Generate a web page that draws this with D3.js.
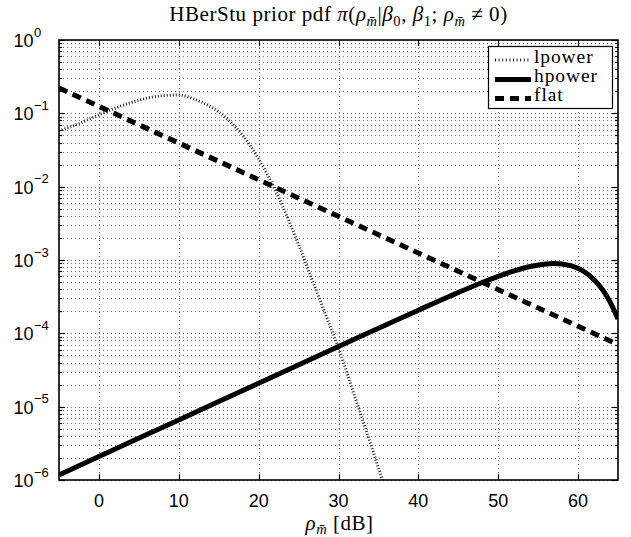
<!DOCTYPE html>
<html>
<head>
<meta charset="utf-8">
<script src="https://cdn.jsdelivr.net/npm/d3@7"></script>
<style>
  html, body { margin: 0; padding: 0; background: #fff; }
  svg { display: block; }
</style>
</head>
<body>
<svg id="chart" width="631" height="537"></svg>
<script>
// ---- data ---------------------------------------------------------------
// x: rho in dB, y: prior pdf value
const lpowerDb  = [-5, -2.5, 0, 2.5, 5, 7.5, 10, 12, 14, 16, 18, 20, 22, 24, 26, 28, 30, 32, 34, 35.5];
const lpowerPdf = [0.0575, 0.0724, 0.0955, 0.123, 0.151, 0.172, 0.178, 0.155, 0.123, 0.0851,
                   0.0501, 0.0240, 0.00933, 0.00302, 8.5e-4, 2.29e-4, 6.3e-5, 1.41e-5, 3.16e-6, 1.0e-6];

const hpowerDb  = [-5, 0, 10, 20, 30, 40, 44, 48, 50, 52, 54, 56, 57, 58, 60, 61, 62, 63, 64, 65];
const hpowerPdf = [1.17e-6, 2.09e-6, 6.6e-6, 2.09e-5, 6.6e-5, 2.07e-4, 3.23e-4, 4.93e-4, 5.98e-4,
                   7.10e-4, 8.15e-4, 8.85e-4, 8.97e-4, 8.83e-4, 7.69e-4, 6.65e-4, 5.39e-4, 4.02e-4,
                   2.69e-4, 1.57e-4];

const flatDb  = [-5, 65];
const flatPdf = [0.221, 7.03e-5];

const seriesNames = ["lpower", "hpower", "flat"];

const xTickValues = [0, 10, 20, 30, 40, 50, 60];
const xTickLabels = ["0", "10", "20", "30", "40", "50", "60"];
const yDecadeExps = [0, -1, -2, -3, -4, -5, -6];

// ---- layout -------------------------------------------------------------
const svg = d3.select("#chart");
const L = 59, R = 618, T = 40, B = 480;

const x = d3.scaleLinear().domain([-5, 65]).range([L, R]);
const y = d3.scaleLog().domain([1e-6, 1]).range([B, T]);

const sans = "'Liberation Sans', Arial, Helvetica, sans-serif";
const serif = "'Liberation Serif', 'Times New Roman', serif";

// ---- grid ---------------------------------------------------------------
const yMajor = yDecadeExps.map(e => Math.pow(10, e));
const yMinor = [];
for (let e = -6; e < 0; e++) for (let k = 2; k <= 9; k++) yMinor.push(k * Math.pow(10, e));

const grid = svg.append("g")
  .attr("stroke", "#333").attr("stroke-width", 0.7)
  .attr("stroke-dasharray", "1,3").attr("fill", "none");

grid.selectAll("line.h").data(yMajor.concat(yMinor)).join("line")
  .attr("x1", L).attr("x2", R)
  .attr("y1", d => Math.round(y(d)) + 0.5).attr("y2", d => Math.round(y(d)) + 0.5);

grid.selectAll("line.v").data(xTickValues).join("line")
  .attr("y1", T).attr("y2", B)
  .attr("x1", d => Math.round(x(d)) + 0.5).attr("x2", d => Math.round(x(d)) + 0.5);

// ---- curves -------------------------------------------------------------
svg.append("clipPath").attr("id", "plotClip")
  .append("rect").attr("x", L).attr("y", T).attr("width", R - L).attr("height", B - T);

const plot = svg.append("g").attr("clip-path", "url(#plotClip)");

const line = d3.line()
  .x(d => x(d[0])).y(d => y(d[1]))
  .curve(d3.curveMonotoneX);

const styles = {
  lpower: { stroke: "#222", width: 3, dash: "1,2" },
  hpower: { stroke: "#000", width: 5, dash: null },
  flat:   { stroke: "#000", width: 5, dash: "9,6" }
};

const series = [
  { name: "lpower", pts: d3.zip(lpowerDb, lpowerPdf) },
  { name: "hpower", pts: d3.zip(hpowerDb, hpowerPdf) },
  { name: "flat",   pts: d3.zip(flatDb, flatPdf) }
];

series.forEach(s => {
  const st = styles[s.name];
  plot.append("path")
    .attr("d", line(s.pts))
    .attr("fill", "none")
    .attr("stroke", st.stroke)
    .attr("stroke-width", st.width)
    .attr("stroke-dasharray", st.dash);
});

// ---- axes box and ticks -------------------------------------------------
const axes = svg.append("g").attr("stroke", "#000").attr("stroke-width", 1.2);

axes.append("rect")
  .attr("x", L).attr("y", T).attr("width", R - L).attr("height", B - T)
  .attr("fill", "none").attr("stroke-width", 1.6);

// x ticks, bottom and top, pointing inward
xTickValues.forEach(v => {
  const px = Math.round(x(v)) + 0.5;
  axes.append("line").attr("x1", px).attr("x2", px).attr("y1", B).attr("y2", B - 6);
  axes.append("line").attr("x1", px).attr("x2", px).attr("y1", T).attr("y2", T + 6);
});

// y ticks, left and right
yMajor.forEach(v => {
  const py = Math.round(y(v)) + 0.5;
  axes.append("line").attr("x1", L).attr("x2", L + 6).attr("y1", py).attr("y2", py);
  axes.append("line").attr("x1", R).attr("x2", R - 6).attr("y1", py).attr("y2", py);
});
yMinor.forEach(v => {
  const py = Math.round(y(v)) + 0.5;
  axes.append("line").attr("x1", L).attr("x2", L + 3).attr("y1", py).attr("y2", py);
  axes.append("line").attr("x1", R).attr("x2", R - 3).attr("y1", py).attr("y2", py);
});

// ---- tick labels --------------------------------------------------------
svg.append("g").selectAll("text").data(xTickValues).join("text")
  .attr("x", d => x(d)).attr("y", 507)
  .attr("text-anchor", "middle")
  .attr("font-family", sans).attr("font-size", 18)
  .text((d, i) => xTickLabels[i]);

const yl = svg.append("g").attr("font-family", sans).attr("fill", "#000");
yDecadeExps.forEach(e => {
  const py = y(Math.pow(10, e));
  yl.append("text").attr("x", 33.5).attr("y", py + 7)
    .attr("text-anchor", "end").attr("font-size", 18).text("10");
  yl.append("text").attr("x", 34).attr("y", py - 3.5)
    .attr("text-anchor", "start").attr("font-size", 13)
    .text(e === 0 ? "0" : "\u2212" + Math.abs(e));
});

// ---- title --------------------------------------------------------------
const title = svg.append("text")
  .attr("x", (L + R) / 2).attr("y", 21)
  .attr("text-anchor", "middle")
  .attr("font-family", serif).attr("font-size", 21)
  .attr("letter-spacing", 0.55);
const sub = 14.5, drop = 4.5;
title.append("tspan").text("HBerStu prior pdf ");
title.append("tspan").attr("font-style", "italic").text("\u03c0");
title.append("tspan").text("(");
title.append("tspan").attr("font-style", "italic").text("\u03c1");
title.append("tspan").attr("font-style", "italic").attr("font-size", sub).attr("dy", drop).text("m\u0304");
title.append("tspan").attr("dy", -drop).text("|");
title.append("tspan").attr("font-style", "italic").text("\u03b2");
title.append("tspan").attr("font-size", sub).attr("dy", drop).text("0");
title.append("tspan").attr("dy", -drop).text(", ");
title.append("tspan").attr("font-style", "italic").text("\u03b2");
title.append("tspan").attr("font-size", sub).attr("dy", drop).text("1");
title.append("tspan").attr("dy", -drop).text("; ");
title.append("tspan").attr("font-style", "italic").text("\u03c1");
title.append("tspan").attr("font-style", "italic").attr("font-size", sub).attr("dy", drop).text("m\u0304");
title.append("tspan").attr("dy", -drop).text(" \u2260 0)");

// ---- x axis label -------------------------------------------------------
const xl = svg.append("text")
  .attr("x", (L + R) / 2 + 1).attr("y", 530)
  .attr("text-anchor", "middle")
  .attr("font-family", serif).attr("font-size", 21)
  .attr("letter-spacing", 0.5);
xl.append("tspan").attr("font-style", "italic").text("\u03c1");
xl.append("tspan").attr("font-style", "italic").attr("font-size", sub).attr("dy", 4).text("m\u0304");
xl.append("tspan").attr("dy", -4).text(" [dB]");

// ---- legend -------------------------------------------------------------
const lg = svg.append("g");
lg.append("rect")
  .attr("x", 488.5).attr("y", 46.5).attr("width", 124).attr("height", 62)
  .attr("fill", "#fff").attr("stroke", "#000").attr("stroke-width", 1.2);

const rowY = [60, 79.5, 98.5];
seriesNames.forEach((name, i) => {
  const st = styles[name];
  lg.append("line")
    .attr("x1", 495).attr("x2", 531)
    .attr("y1", rowY[i]).attr("y2", rowY[i])
    .attr("stroke", st.stroke).attr("stroke-width", st.width)
    .attr("stroke-dasharray", name === "lpower" ? "1,2.6" : st.dash);
  lg.append("text")
    .attr("x", 534).attr("y", rowY[i] + 2.8)
    .attr("font-family", serif).attr("font-size", 19.5)
    .attr("letter-spacing", 0.9)
    .text(name);
});
</script>
</body>
</html>
